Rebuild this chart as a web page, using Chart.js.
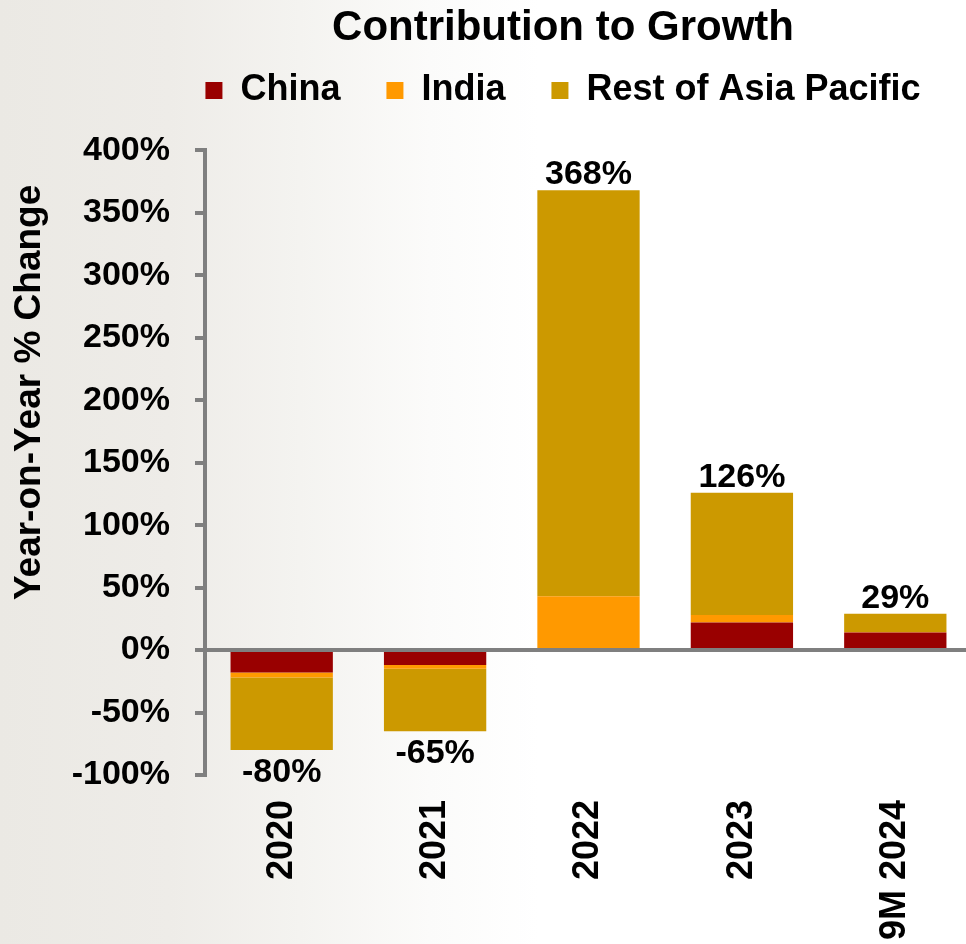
<!DOCTYPE html>
<html>
<head>
<meta charset="utf-8">
<script src="https://cdn.jsdelivr.net/npm/chart.js@4.4.1/dist/chart.umd.min.js"></script>
<style>
  html, body { margin: 0; padding: 0; overflow: hidden; }
  body {
    width: 966px;
    height: 944px;
    background: linear-gradient(90deg, #ebe9e4 0px, #eeece8 170px, #f4f3f0 300px, #fbfbfa 430px, #ffffff 540px);
  }
  #wrap { position: absolute; left: 0; top: 0; width: 1126px; height: 1000px; }
</style>
</head>
<body>
<div id="wrap"><canvas id="chart" width="1126" height="1000"></canvas></div>
<script>
// values (percentage points of YoY change)
const categories = ["2020", "2021", "2022", "2023", "9M 2024"];
const china = [-18, -12, 0, 22, 14];
const india = [-4, -3, 43, 6, 0.5];
const restOfAsiaPacific = [-58, -50, 325, 98, 14.5];
const seriesNames = ["China", "India", "Rest of Asia Pacific"];
const seriesColors = ["#990000", "#ff9900", "#cc9900"];
const yMin = -100;
const yMax = 400;
const yStep = 50;
const chartTitle = "Contribution to Growth";
const yTitle = "Year-on-Year % Change";

const FONT = '"Liberation Sans", Arial, sans-serif';
Chart.defaults.font.family = FONT;
Chart.defaults.color = "#000";

// extra room between legend and plot
const legendSpacer = {
  id: "legendSpacer",
  beforeInit(chart) {
    const fit = chart.legend.fit;
    chart.legend.fit = function () {
      fit.bind(chart.legend)();
      this.height += 32;
    };
  }
};

// rotated y title, sits higher than the axis middle in the original
const yTitlePlugin = {
  id: "yTitlePlugin",
  afterDraw(chart) {
    const ctx = chart.ctx;
    ctx.save();
    ctx.translate(30, chart.chartArea.top + 242);
    ctx.rotate(-Math.PI / 2);
    ctx.font = "bold 37px " + FONT;
    ctx.fillStyle = "#000";
    ctx.textAlign = "center";
    ctx.textBaseline = "middle";
    ctx.fillText(yTitle, 0, 0);
    ctx.restore();
  }
};

// totals above / below each stack
const totalLabels = {
  id: "totalLabels",
  afterDatasetsDraw(chart) {
    const ctx = chart.ctx;
    const meta = chart.getDatasetMeta(2);
    ctx.save();
    ctx.font = "bold 34px " + FONT;
    ctx.fillStyle = "#000";
    ctx.textAlign = "center";
    ctx.textBaseline = "alphabetic";
    meta.data.forEach((bar, i) => {
      const total = Math.round(china[i] + india[i] + restOfAsiaPacific[i]);
      const y = total >= 0 ? bar.y - 6 : bar.y + 32;
      ctx.fillText(total + "%", bar.x, y);
    });
    ctx.restore();
  }
};

const seriesData = [china, india, restOfAsiaPacific];

new Chart(document.getElementById("chart"), {
  type: "bar",
  data: {
    labels: categories,
    datasets: seriesData.map((d, i) => ({
      label: seriesNames[i],
      data: d,
      backgroundColor: seriesColors[i],
      borderWidth: 0,
      categoryPercentage: 1,
      barPercentage: 0.667,
    })),
  },
  options: {
    responsive: false,
    animation: false,
    layout: { padding: 0 },
    plugins: {
      title: {
        display: true,
        text: chartTitle,
        color: "#000",
        font: { size: 42, weight: "bold" },
        padding: { top: 3, bottom: -27 },
      },
      legend: {
        display: true,
        labels: {
          boxWidth: 17,
          boxHeight: 17,
          padding: 46,
          color: "#000",
          font: { size: 36, weight: "bold" },
        },
      },
      tooltip: { enabled: false },
    },
    scales: {
      x: {
        stacked: true,
        grid: { display: false, drawTicks: false },
        border: { display: false },
        ticks: {
          color: "#000",
          font: { size: 36, weight: "bold" },
          minRotation: 90,
          maxRotation: 90,
          padding: 25,
        },
        afterFit: (s) => { s.height = 225; },
      },
      y: {
        stacked: true,
        min: yMin,
        max: yMax,
        ticks: {
          stepSize: yStep,
          color: "#000",
          font: { size: 34, weight: "bold" },
          padding: 25,
          callback: (v) => v + "%",
        },
        grid: {
          color: (c) => (c.tick && c.tick.value === 0 ? "#7f7f7f" : "rgba(0,0,0,0)"),
          tickColor: "#7f7f7f",
          lineWidth: 4,
          tickLength: 10,
        },
        border: { color: "#7f7f7f", width: 4 },
        afterFit: (s) => { s.width = 205; },
      },
      yRight: {
        position: "right",
        display: true,
        grid: { display: false, drawTicks: false },
        border: { display: false },
        ticks: { display: false },
        afterFit: (s) => { s.width = 154; },
      },
    },
  },
  plugins: [legendSpacer, yTitlePlugin, totalLabels],
});
</script>
</body>
</html>
